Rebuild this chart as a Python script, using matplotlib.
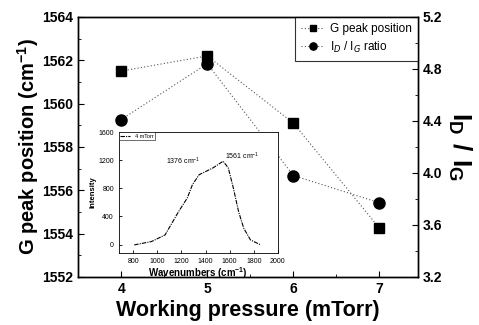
import matplotlib
matplotlib.use('Agg')
import matplotlib.pyplot as plt

plt.rcParams['font.family'] = ['Liberation Sans', 'DejaVu Sans']
plt.rcParams['mathtext.fontset'] = 'custom'
plt.rcParams['mathtext.rm'] = 'Liberation Sans'
plt.rcParams['mathtext.bf'] = 'Liberation Sans:bold'

pressure = [4, 5, 6, 7]
g_peak = [1561.5, 1562.2, 1559.1, 1554.25]
id_ig = [4.41, 4.84, 3.98, 3.77]

# inset raman spectrum (4 mTorr)
wavenum = [808, 951, 1064, 1177, 1248, 1291, 1347, 1461, 1546, 1589, 1631, 1674, 1717, 1773, 1858]
intensity = [-5, 43, 137, 471, 661, 851, 994, 1090, 1186, 1090, 804, 471, 233, 66, -5]

fig = plt.figure(figsize=(4.79, 3.25), dpi=100)
ax = fig.add_axes([0.163, 0.148, 0.71, 0.80])
ax2 = ax.twinx()

dots = (0, (1, 2))
l1, = ax.plot(pressure, g_peak, 's', ls=dots, lw=0.8, color='#555555',
              mfc='black', mec='black', ms=7, label='G peak position')
l2, = ax2.plot(pressure, id_ig, 'o', ls=dots, lw=0.8, color='#555555',
               mfc='black', mec='black', ms=8, label='I$_D$ / I$_G$ ratio')

ax.set_xlim(3.5, 7.45)
ax.set_ylim(1552, 1564)
ax2.set_ylim(3.2, 5.2)
ax.set_xticks([4, 5, 6, 7])
ax.set_xticks([4.5, 5.5, 6.5], minor=True)
ax.set_yticks(range(1552, 1565, 2))
ax.set_yticks(range(1553, 1564, 2), minor=True)
ax2.set_yticks([3.2, 3.6, 4.0, 4.4, 4.8, 5.2])
ax2.set_yticks([3.4, 3.8, 4.2, 4.6, 5.0], minor=True)

for a in (ax, ax2):
    a.tick_params(which='both', direction='in', labelsize=10)
    a.tick_params(which='major', length=4)
    a.tick_params(which='minor', length=2)
    for lab in a.get_xticklabels() + a.get_yticklabels():
        lab.set_fontweight('bold')
    for s in a.spines.values():
        s.set_linewidth(1.0)

ax.set_xlabel('Working pressure (mTorr)', fontsize=15.5, fontweight='bold', labelpad=3)
ax.set_ylabel('G peak position (cm$^{\\mathbf{-1}}$)', fontsize=14.5, fontweight='bold', labelpad=1)
ax2.set_ylabel('$\\mathbf{I_D\\ /\\ I_G}$', fontsize=19, rotation=270, labelpad=22)

leg = ax.legend([l1, l2], ['G peak position', 'I$_D$ / I$_G$ ratio'], loc='upper right',
                fontsize=8.5, frameon=True, fancybox=False, borderaxespad=0,
                handlelength=2.0, handletextpad=0.5, borderpad=0.5, labelspacing=0.4,
                markerscale=0.65)
leg.get_frame().set_edgecolor('black')
leg.get_frame().set_linewidth(0.8)

# inset
ins = fig.add_axes([0.248, 0.2215, 0.332, 0.372])
ins.plot(wavenum, intensity, color='black', lw=0.8, ls=(0, (4, 1, 1, 1)), label='4 mTorr')
ins.set_xlim(680, 2000)
ins.set_ylim(-120, 1600)
ins.set_xticks([800, 1000, 1200, 1400, 1600, 1800, 2000])
ins.set_yticks([0, 400, 800, 1200, 1600])
ins.tick_params(direction='in', labelsize=5, length=2, width=0.6)
for s in ins.spines.values():
    s.set_linewidth(0.6)
ins.set_xlabel('Wavenumbers (cm$^{\\mathbf{-1}}$)', fontsize=7, fontweight='bold', labelpad=0)
ins.set_ylabel('Intensity', fontsize=5.5, fontweight='bold', labelpad=1)
ins.text(1217, 1186, '1376 cm$^{-1}$', fontsize=5, ha='center', va='center')
ins.text(1702, 1250, '1561 cm$^{-1}$', fontsize=5, ha='center', va='center')
il = ins.legend(loc='upper left', fontsize=4, frameon=True, fancybox=False, borderaxespad=0,
                handlelength=1.8, borderpad=0.3)
il.get_frame().set_edgecolor('black')
il.get_frame().set_linewidth(0.5)

fig.savefig('out.png', dpi=100)
